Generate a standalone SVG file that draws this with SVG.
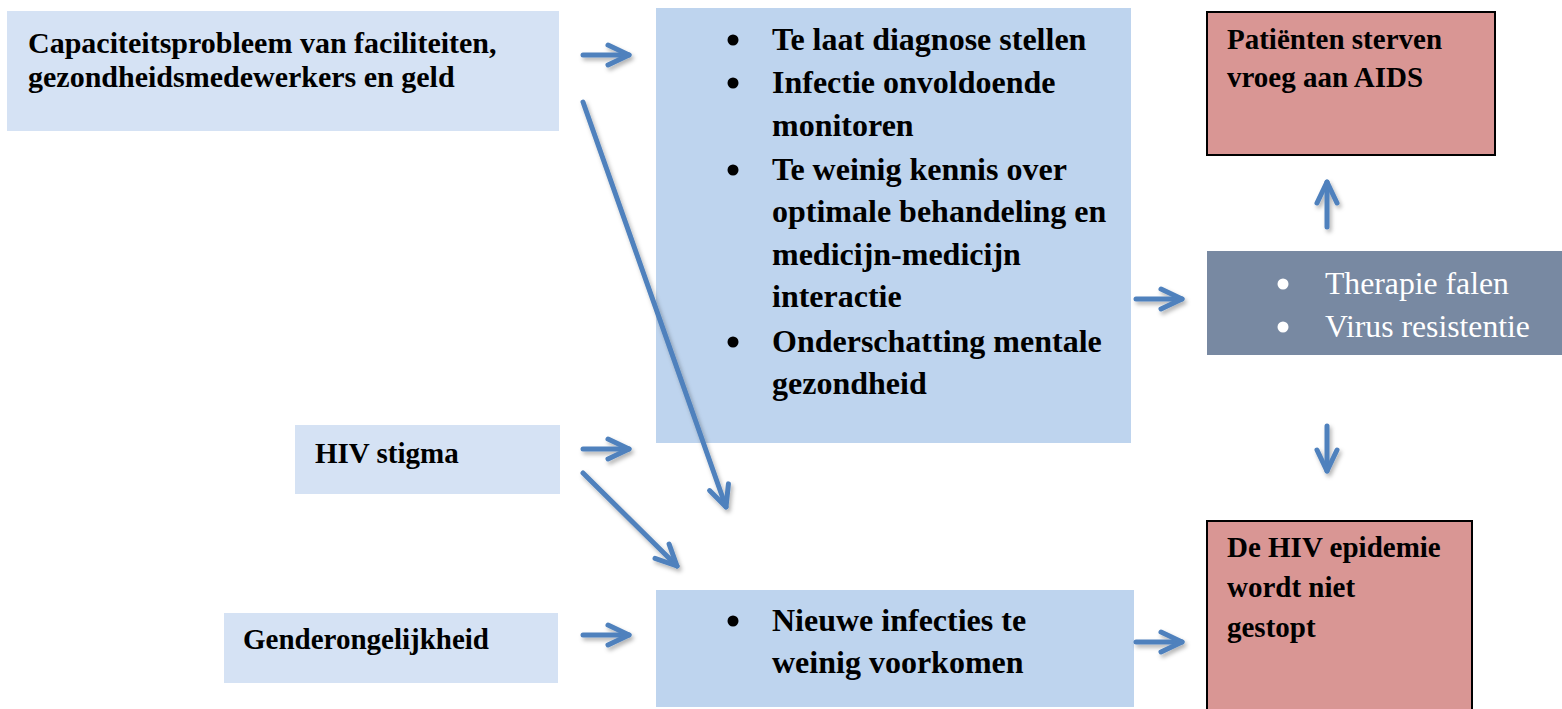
<svg xmlns="http://www.w3.org/2000/svg" width="1562" height="709" viewBox="0 0 1562 709">
<style>
  .t { font-family: "Liberation Serif", "Times New Roman", serif; font-weight: bold; fill: #000; }
  .s29 { font-size: 29px; }
  .s30 { font-size: 30px; }
  .s32 { font-size: 32px; }
  .w { font-family: "Liberation Serif", "Times New Roman", serif; font-size: 31.7px; fill: #ffffff; }
  .light { fill: #d5e2f4; }
  .mid { fill: #bed4ee; }
  .red { fill: #d99694; stroke: #000; stroke-width: 2; }
  .slate { fill: #7889a2; }
  .arr { fill: none; stroke: #4f81bd; stroke-width: 5; stroke-linecap: round; marker-end: url(#head); }
</style>
<defs>
  <marker id="head" markerUnits="userSpaceOnUse" viewBox="-26 -15 32 30" refX="0" refY="0" markerWidth="32" markerHeight="30" orient="auto" overflow="visible">
    <path d="M-21 -10 L0 0 L-21 10" fill="none" stroke="#4f81bd" stroke-width="5" stroke-linecap="round" stroke-linejoin="round"/>
  </marker>
  <filter id="sh" x="-20%" y="-20%" width="140%" height="140%">
    <feDropShadow dx="2" dy="3" stdDeviation="2" flood-color="#000" flood-opacity="0.3"/>
  </filter>
</defs>

<g id="capaciteit">
  <rect class="light" x="7" y="11" width="552" height="120"/>
  <text class="t s30" x="28" y="53">Capaciteitsprobleem van faciliteiten,</text>
  <text class="t s30" x="28" y="87">gezondheidsmedewerkers en geld</text>
</g>

<g id="problemen">
  <rect class="mid" x="656" y="8" width="475" height="435"/>
  <g class="t s32">
    <circle cx="733" cy="40" r="5.5"/>
    <text x="772" y="50">Te laat diagnose stellen</text>
    <circle cx="733" cy="83" r="5.5"/>
    <text x="772" y="93">Infectie onvoldoende</text>
    <text x="772" y="136">monitoren</text>
    <circle cx="733" cy="170" r="5.5"/>
    <text x="772" y="180">Te weinig kennis over</text>
    <text x="772" y="222">optimale behandeling en</text>
    <text x="772" y="265">medicijn-medicijn</text>
    <text x="772" y="307">interactie</text>
    <circle cx="733" cy="342" r="5.5"/>
    <text x="772" y="352">Onderschatting mentale</text>
    <text x="772" y="394">gezondheid</text>
  </g>
</g>

<g id="stigma">
  <rect class="light" x="295" y="425" width="265" height="69"/>
  <text class="t s29" x="315" y="463">HIV stigma</text>
</g>

<g id="gender">
  <rect class="light" x="224" y="613" width="334" height="70"/>
  <text class="t s29" x="243" y="649">Genderongelijkheid</text>
</g>

<g id="nieuwe">
  <rect class="mid" x="656" y="590" width="478" height="117"/>
  <g class="t s32">
    <circle cx="733" cy="621" r="5.5"/>
    <text x="772" y="631">Nieuwe infecties te</text>
    <text x="772" y="673">weinig voorkomen</text>
  </g>
</g>

<g id="sterven">
  <rect class="red" x="1207" y="12" width="288" height="143"/>
  <text class="t s29" x="1227" y="49">Patiënten sterven</text>
  <text class="t s29" x="1227" y="87">vroeg aan AIDS</text>
</g>

<g id="therapie">
  <rect class="slate" x="1207" y="251" width="355" height="104"/>
  <circle cx="1283" cy="284" r="5.5" fill="#ffffff"/>
  <text class="w" x="1325" y="294">Therapie falen</text>
  <circle cx="1283" cy="327" r="5.5" fill="#ffffff"/>
  <text class="w" x="1325" y="337">Virus resistentie</text>
</g>

<g id="epidemie">
  <rect class="red" x="1207" y="521" width="265" height="200"/>
  <text class="t s29" x="1227" y="557">De HIV epidemie</text>
  <text class="t s29" x="1227" y="597">wordt niet</text>
  <text class="t s29" x="1227" y="637">gestopt</text>
</g>

<g id="connectors" filter="url(#sh)">
  <path class="arr" d="M583 55 L629 55"/>
  <path class="arr" d="M583 102 L726 507"/>
  <path class="arr" d="M583 449 L629 449"/>
  <path class="arr" d="M583 473 L677 566"/>
  <path class="arr" d="M583 635 L629 635"/>
  <path class="arr" d="M1136 299 L1182 299"/>
  <path class="arr" d="M1136 642 L1182 642"/>
  <path class="arr" d="M1327 227 L1327 182"/>
  <path class="arr" d="M1327 426 L1327 471"/>
</g>
</svg>
